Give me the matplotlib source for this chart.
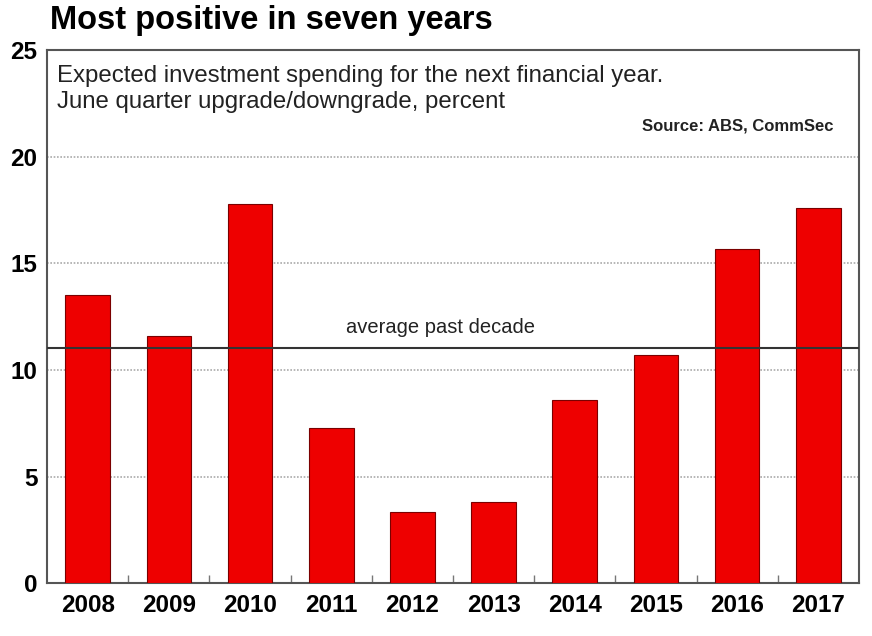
import matplotlib.pyplot as plt
import numpy as np

plt.rcParams['font.family'] = ['Liberation Sans', 'DejaVu Sans']

# Data
years = ['2008', '2009', '2010', '2011', '2012', '2013', '2014', '2015', '2016', '2017']
upgrade = [13.5, 11.6, 17.8, 7.3, 3.35, 3.8, 8.6, 10.7, 15.7, 17.6]
avg_decade = 11.05
y_ticks = [0, 5, 10, 15, 20, 25]

fig = plt.figure(figsize=(8.72, 6.36), dpi=100)
ax = fig.add_axes([0.054, 0.083, 0.931, 0.838])

x = np.arange(len(years))
ax.bar(x, upgrade, width=0.55, color='#ee0000', edgecolor='#7a0000', linewidth=0.8, zorder=3)
ax.axhline(avg_decade, color='#333333', linewidth=1.5, zorder=4)

ax.set_xlim(-0.5, len(years) - 0.5)
ax.set_ylim(0, 25)
ax.set_yticks(y_ticks)
ax.set_yticklabels([str(t) for t in y_ticks], fontsize=17.5, fontweight='bold')
ax.set_xticks(x)
ax.set_xticklabels(years, fontsize=17.5, fontweight='bold')
ax.tick_params(axis='x', which='major', length=0, pad=8)
ax.tick_params(axis='y', length=0, pad=7)
ax.set_xticks(np.arange(0.5, len(years) - 1, 1.0), minor=True)
ax.tick_params(axis='x', which='minor', direction='in', length=6, color='#777777', width=1)

for yv in y_ticks[1:-1]:
    ax.axhline(yv, color='#aaaaaa', linestyle=(0, (1, 1)), linewidth=1.2, zorder=1)

for s in ax.spines.values():
    s.set_color('#555555')
    s.set_linewidth(1.5)

fig.text(0.057, 0.968, 'Most positive in seven years', fontsize=23.5, fontweight='bold',
         ha='left', va='center')
ax.text(0.012, 0.972, 'Expected investment spending for the next financial year.\nJune quarter upgrade/downgrade, percent',
        transform=ax.transAxes, fontsize=17.3, color='#222222', ha='left', va='top', linespacing=1.22)
ax.text(0.969, 0.858, 'Source: ABS, CommSec', transform=ax.transAxes, fontsize=12,
        fontweight='bold', ha='right', va='center', color='#222222')
ax.text(4.35, avg_decade + 0.5, 'average past decade', fontsize=14.5, ha='center', va='bottom',
        color='#222222', zorder=5)

fig.savefig('out.png', dpi=100)
